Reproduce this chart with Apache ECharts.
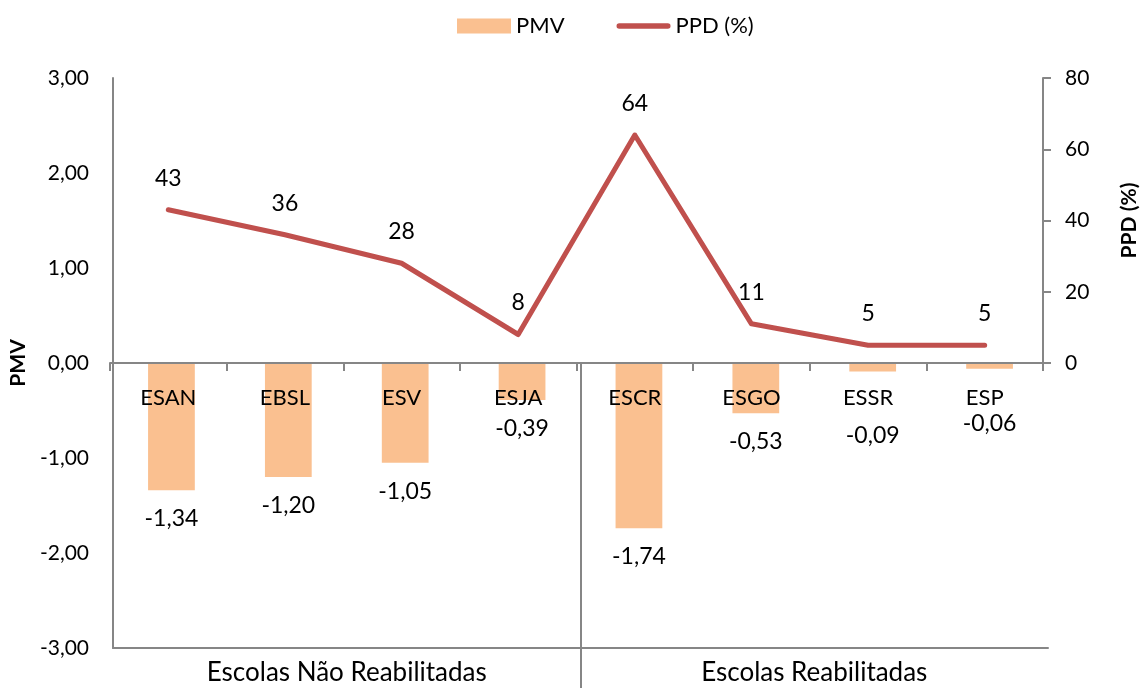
<!DOCTYPE html>
<html>
<head>
<meta charset="utf-8">
<script src="https://cdn.jsdelivr.net/npm/echarts@6/dist/echarts.min.js"></script>
<style>
  html, body { margin: 0; padding: 0; background: #fff; }
  #chart { width: 1148px; height: 688px; }
</style>
</head>
<body>
<div id="chart"></div>
<script>
// Schools and their thermal comfort indices
const schools = ['ESAN', 'EBSL', 'ESV', 'ESJA', 'ESCR', 'ESGO', 'ESSR', 'ESP'];
const groups = ['Escolas Não Reabilitadas', 'Escolas Reabilitadas'];
const pmv = [-1.34, -1.20, -1.05, -0.39, -1.74, -0.53, -0.09, -0.06];
const ppd = [43, 36, 28, 8, 64, 11, 5, 5];
// extra downward shift for the tiny-bar labels so they clear the school names
const pmvLabelShift = [0, 0, 0, 0, 0, 0, 36, 26];

const FONT = 'Lato';
const AXIS_GRAY = '#868686';
const LINE_RED = '#C0504D';
const fmt2 = v => v.toFixed(2).replace('.', ',');

const chart = echarts.init(document.getElementById('chart'));

const option = {
  animation: false,
  textStyle: { fontFamily: FONT, color: '#000' },
  legend: {
    top: 10,
    left: 452,
    itemGap: 52,
    itemWidth: 54,
    itemHeight: 15,
    symbolKeepAspect: true,
    textStyle: { fontFamily: FONT, fontSize: 22, color: '#000' },
    data: [
      { name: 'PMV', icon: 'rect' },
      {
        name: 'PPD (%)',
        icon: 'path://M3,0 L57,0 A3,3 0 0 1 57,6 L3,6 A3,3 0 0 1 3,0 Z',
        itemStyle: { color: LINE_RED }
      }
    ]
  },
  grid: [
    // full plot area (PMV, -3..3)
    { left: 110, right: 100, top: 78, bottom: 40, containLabel: false },
    // upper half, above PMV zero (PPD, 0..80)
    { left: 110, right: 100, top: 78, bottom: 325, containLabel: false }
  ],
  xAxis: [
    {
      type: 'category',
      gridIndex: 0,
      data: schools,
      show: false
    },
    {
      type: 'category',
      gridIndex: 0,
      position: 'bottom',
      data: groups,
      axisLine: { onZero: false, lineStyle: { color: AXIS_GRAY, width: 2 } },
      axisTick: { show: false },
      axisLabel: { margin: 12, fontFamily: FONT, fontSize: 26, color: '#000' }
    },
    {
      type: 'category',
      gridIndex: 1,
      position: 'bottom',
      data: schools,
      z: 10,
      axisLine: { onZero: false, lineStyle: { color: AXIS_GRAY, width: 2 } },
      axisTick: { show: true, length: 8, lineStyle: { color: AXIS_GRAY, width: 2 } },
      axisLabel: { margin: 24, fontFamily: FONT, fontSize: 22, color: '#000' }
    }
  ],
  yAxis: [
    {
      type: 'value',
      gridIndex: 0,
      min: -3,
      max: 3,
      interval: 1,
      name: 'PMV',
      nameLocation: 'middle',
      nameGap: 84,
      nameRotate: 90,
      nameTextStyle: { fontFamily: FONT, fontSize: 21, fontWeight: 'bold', color: '#000' },
      axisLine: { show: true, lineStyle: { color: AXIS_GRAY, width: 2 } },
      axisTick: { show: false },
      splitLine: { show: false },
      axisLabel: { margin: 24, fontFamily: FONT, fontSize: 21, color: '#000', formatter: fmt2 }
    },
    {
      type: 'value',
      gridIndex: 1,
      position: 'right',
      min: 0,
      max: 80,
      interval: 20,
      name: 'PPD (%)',
      nameLocation: 'middle',
      nameGap: 76,
      nameRotate: 90,
      nameTextStyle: { fontFamily: FONT, fontSize: 21, fontWeight: 'bold', color: '#000' },
      axisLine: { show: true, lineStyle: { color: AXIS_GRAY, width: 2 } },
      axisTick: { show: true, length: 8, lineStyle: { color: AXIS_GRAY, width: 2 } },
      splitLine: { show: false },
      axisLabel: { margin: 22, fontFamily: FONT, fontSize: 21, color: '#000' }
    }
  ],
  series: [
    {
      name: 'PMV',
      type: 'bar',
      xAxisIndex: 0,
      yAxisIndex: 0,
      barWidth: '40%',
      itemStyle: { color: '#FAC090' },
      data: pmv.map((v, i) => ({
        value: v,
        label: {
          show: true,
          position: 'bottom',
          distance: 17,
          offset: [0, pmvLabelShift[i]],
          fontFamily: FONT,
          fontSize: 23,
          color: '#000',
          formatter: p => fmt2(p.value)
        }
      }))
    },
    {
      name: 'PPD (%)',
      type: 'line',
      xAxisIndex: 2,
      yAxisIndex: 1,
      data: ppd,
      showSymbol: true,
      symbol: 'circle',
      symbolSize: 0.1,
      lineStyle: { color: LINE_RED, width: 5, cap: 'round', join: 'round' },
      itemStyle: { color: LINE_RED },
      label: {
        show: true,
        position: 'top',
        distance: 20,
        fontFamily: FONT,
        fontSize: 23,
        color: '#000'
      },
      z: 3
    }
  ]
};

chart.setOption(option);

// Divider between the two school groups, running from the zero line down past the group labels
function drawDivider() {
  const left = chart.convertToPixel({ xAxisIndex: 0 }, schools[3]);
  const right = chart.convertToPixel({ xAxisIndex: 0 }, schools[4]);
  const x = Math.round((left + right) / 2);
  const y0 = chart.convertToPixel({ yAxisIndex: 0 }, 0);
  chart.setOption({
    graphic: [{
      type: 'line',
      shape: { x1: x, y1: y0, x2: x, y2: chart.getHeight() },
      style: { stroke: AXIS_GRAY, lineWidth: 2 },
      z: 10
    }]
  });
}
drawDivider();
</script>
</body>
</html>
